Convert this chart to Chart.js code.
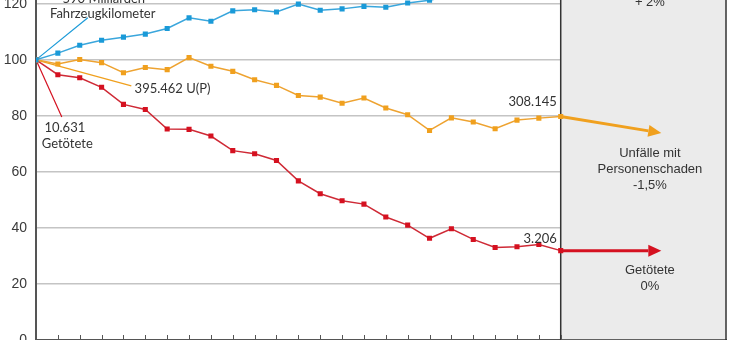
<!DOCTYPE html>
<html lang="de">
<head>
<meta charset="UTF-8" />
<title>Entwicklung Unfälle und Getötete</title>
<script src="https://cdn.jsdelivr.net/npm/chart.js"></script>
<style>
  html, body { margin: 0; padding: 0; background: #fff; overflow: hidden; }
  /* Grafik ist oben abgeschnitten, daher Canvas höher und nach oben verschoben */
  .quadro { position: absolute; left: 0; top: -60px; width: 730px; height: 404px; }
</style>
</head>
<body>
<div class="quadro"><canvas id="grafico"></canvas></div>
<script>
  // Index 1992 = 100
  var anos = [1992, 1993, 1994, 1995, 1996, 1997, 1998, 1999, 2000, 2001, 2002, 2003, 2004,
              2005, 2006, 2007, 2008, 2009, 2010, 2011, 2012, 2013, 2014, 2015, 2016];
  var fahrleistung = [100, 102.4, 105.2, 107, 108.1, 109.2, 111.2, 115, 113.8, 117.5, 117.9, 117.1, 119.9,
                      117.7, 118.2, 119.1, 118.8, 120.3, 121.3, 123, 123.5, 124.5, 126, 127.5, 129];
  var unfaelle = [100, 98.5, 100.1, 99, 95.4, 97.3, 96.5, 100.8, 97.7, 95.9, 92.9, 90.9, 87.3,
                  86.7, 84.5, 86.4, 82.8, 80.4, 74.8, 79.3, 77.8, 75.4, 78.5, 79.2, 79.8];
  var getoetete = [100, 94.7, 93.6, 90.2, 84.1, 82.3, 75.3, 75.2, 72.8, 67.6, 66.5, 64.1, 56.8,
                   52.2, 49.7, 48.5, 43.9, 41.0, 36.3, 39.7, 35.9, 33.0, 33.3, 34.1, 31.9];
  var yMin = 0, yMax = 140, yPasso = 20;

  // Prognose bis ca. 2020
  var pfeilAno = 2020.6;
  var pfeilFahrleistung = 141;
  var pfeilUnfaelle = 73.9;
  var pfeilGetoetete = 31.9;

  var corAzul = "#1a9ad8";
  var corLaranja = "#f0a01e";
  var corVermelho = "#d51120";

  function serie(valores) {
    return anos.map(function (a, i) { return { x: a, y: valores[i] }; });
  }

  // Beschriftungen in Datenkoordinaten (Jahr, Indexwert)
  var textos = [
    { t: "590 Milliarden", ano: 1995.1, val: 120.3, align: "center", f: "13px Lato" },
    { t: "Fahrzeugkilometer", ano: 1995.05, val: 115.1, align: "center", f: "13px Lato" },
    { t: "395.462 U(P)", ano: 1996.51, val: 88.3, align: "left", f: "13px Lato" },
    { t: "10.631", ano: 1993.32, val: 74.1, align: "center", f: "13px Lato" },
    { t: "Getötete", ano: 1993.43, val: 68.5, align: "center", f: "13px Lato" },
    { t: "308.145", ano: 2015.82, val: 83.6, align: "right", f: "13px Lato" },
    { t: "3.206", ano: 2015.82, val: 34.6, align: "right", f: "13px Lato" },
    { t: "+ 2%", ano: 2020.08, val: 119.3, align: "center", f: "13px 'Liberation Sans'" },
    { t: "Unfälle mit", ano: 2020.08, val: 65.3, align: "center", f: "13px 'Liberation Sans'" },
    { t: "Personenschaden", ano: 2020.08, val: 59.7, align: "center", f: "13px 'Liberation Sans'" },
    { t: "-1,5%", ano: 2020.08, val: 53.9, align: "center", f: "13px 'Liberation Sans'" },
    { t: "Getötete", ano: 2020.08, val: 23.6, align: "center", f: "13px 'Liberation Sans'" },
    { t: "0%", ano: 2020.08, val: 17.7, align: "center", f: "13px 'Liberation Sans'" }
  ];

  // Hinweislinien vom Startpunkt zur Beschriftung
  var linhas = [
    { cor: corAzul, ano: 1994.37, val: 115 },
    { cor: corLaranja, ano: 1996.36, val: 90.7 },
    { cor: corVermelho, ano: 1993.18, val: 79.6 }
  ];

  function seta(ctx, x1, y1, x2, y2, cor) {
    var ang = Math.atan2(y2 - y1, x2 - x1);
    var comp = 13, meia = 6;
    var bx = x2 - comp * Math.cos(ang), by = y2 - comp * Math.sin(ang);
    ctx.strokeStyle = cor;
    ctx.fillStyle = cor;
    ctx.lineWidth = 3;
    ctx.beginPath();
    ctx.moveTo(x1, y1);
    ctx.lineTo(bx, by);
    ctx.stroke();
    ctx.beginPath();
    ctx.moveTo(x2, y2);
    ctx.lineTo(bx - meia * Math.sin(ang), by + meia * Math.cos(ang));
    ctx.lineTo(bx + meia * Math.sin(ang), by - meia * Math.cos(ang));
    ctx.closePath();
    ctx.fill();
  }

  var anotacoes = {
    id: "anotacoes",
    beforeDatasetsDraw: function (chart) {
      var ctx = chart.ctx, area = chart.chartArea;
      var x = chart.scales.x, y = chart.scales.y;
      var x0 = x.getPixelForValue(anos[anos.length - 1]);
      var yBase = y.getPixelForValue(0);
      ctx.save();
      // graue Prognose-Box
      ctx.fillStyle = "#ebebeb";
      ctx.fillRect(x0, 0, area.right - x0, yBase);
      ctx.strokeStyle = "#333";
      ctx.lineWidth = 1.5;
      ctx.strokeRect(x0, -5, area.right - x0, yBase + 5);
      // kleine Striche an der x-Achse
      ctx.strokeStyle = "#555";
      ctx.lineWidth = 1;
      anos.forEach(function (a) {
        var px = Math.round(x.getPixelForValue(a)) + 0.5;
        ctx.beginPath();
        ctx.moveTo(px, yBase - 5);
        ctx.lineTo(px, yBase + 3);
        ctx.stroke();
      });
      // Hinweislinien
      var sx = x.getPixelForValue(anos[0]), sy = y.getPixelForValue(100);
      linhas.forEach(function (l) {
        ctx.strokeStyle = l.cor;
        ctx.lineWidth = 1.2;
        ctx.beginPath();
        ctx.moveTo(sx, sy);
        ctx.lineTo(x.getPixelForValue(l.ano), y.getPixelForValue(l.val));
        ctx.stroke();
      });
      ctx.restore();
    },
    afterDatasetsDraw: function (chart) {
      var ctx = chart.ctx;
      var x = chart.scales.x, y = chart.scales.y;
      var ult = anos.length - 1;
      var xu = x.getPixelForValue(anos[ult]);
      var xe = x.getPixelForValue(pfeilAno);
      ctx.save();
      seta(ctx, xu, y.getPixelForValue(fahrleistung[ult]), xe, y.getPixelForValue(pfeilFahrleistung), corAzul);
      seta(ctx, xu, y.getPixelForValue(unfaelle[ult]), xe, y.getPixelForValue(pfeilUnfaelle), corLaranja);
      seta(ctx, xu, y.getPixelForValue(getoetete[ult]), xe, y.getPixelForValue(pfeilGetoetete), corVermelho);
      ctx.fillStyle = "#333";
      ctx.textBaseline = "alphabetic";
      textos.forEach(function (t) {
        ctx.font = t.f;
        ctx.textAlign = t.align;
        ctx.fillText(t.t, x.getPixelForValue(t.ano), y.getPixelForValue(t.val));
      });
      ctx.restore();
    }
  };

  var config = {
    type: "line",
    data: {
      datasets: [
        { label: "Fahrzeugkilometer", data: serie(fahrleistung), borderColor: "#3aa6dc", backgroundColor: corAzul },
        { label: "Unfälle mit Personenschaden", data: serie(unfaelle), borderColor: "#eea331", backgroundColor: corLaranja },
        { label: "Getötete", data: serie(getoetete), borderColor: "#cf2a36", backgroundColor: corVermelho }
      ]
    },
    options: {
      responsive: true,
      maintainAspectRatio: false,
      animation: false,
      layout: { padding: { top: 7.8, bottom: 0, left: 0, right: 1 } },
      elements: {
        line: { borderWidth: 1.5, tension: 0 },
        point: { pointStyle: "rect", radius: 3.6, borderWidth: 0 }
      },
      plugins: { legend: { display: false }, tooltip: { enabled: false } },
      scales: {
        x: {
          type: "linear",
          min: 1992,
          max: 2023.56,
          ticks: { display: false },
          grid: { display: false, drawTicks: false },
          border: { display: true, color: "#555", width: 3 },
          afterFit: function (s) {
            s.height = 0;
            s.paddingLeft = 0; s.paddingRight = 0;
          }
        },
        y: {
          min: yMin,
          max: yMax,
          ticks: {
            stepSize: yPasso,
            padding: 9,
            color: "#3a3a3a",
            font: { family: "'Liberation Sans', Arial, sans-serif", size: 14 }
          },
          grid: { color: "#c4c4c4", lineWidth: 1.6, drawTicks: false },
          border: { display: true, color: "#555", width: 2 },
          afterFit: function (s) {
            s.width = 36;
            s.paddingTop = 0; s.paddingBottom = 0;
          }
        }
      }
    },
    plugins: [anotacoes]
  };

  new Chart(document.getElementById("grafico"), config);
</script>
</body>
</html>
